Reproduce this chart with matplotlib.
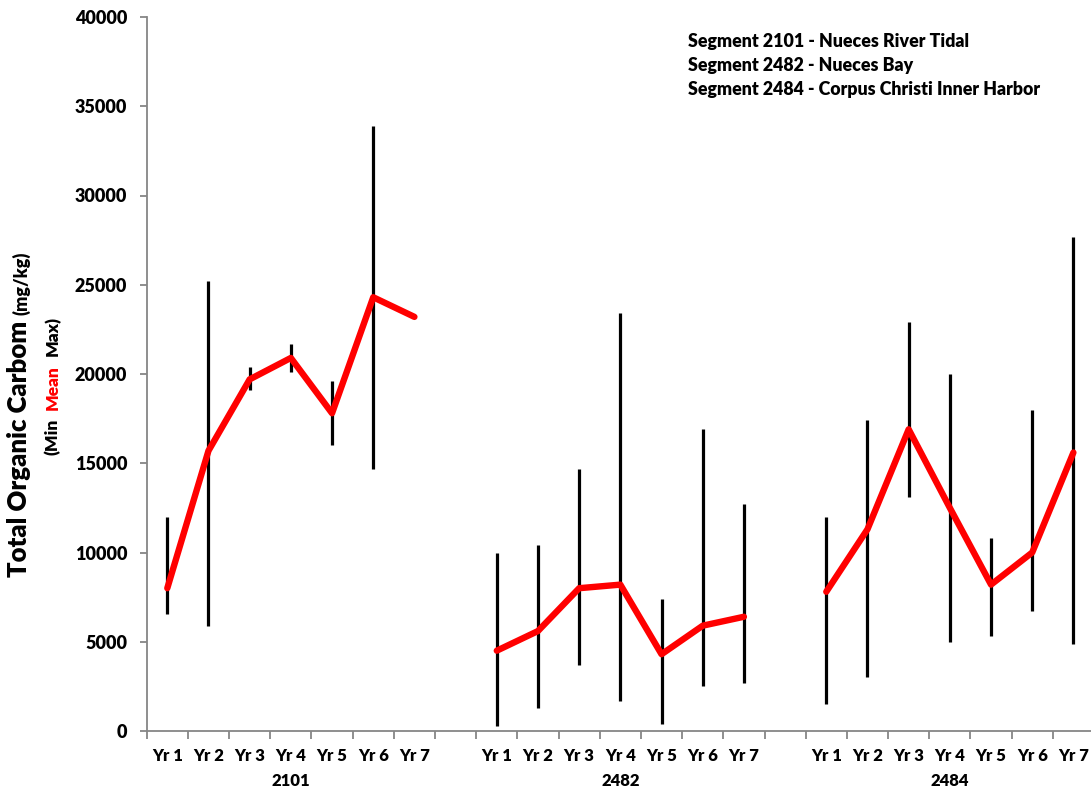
import numpy as np
import matplotlib
matplotlib.use('Agg')
import matplotlib.pyplot as plt

plt.rcParams['font.family'] = ['Lato', 'DejaVu Sans']
plt.rcParams['font.weight'] = 'heavy'

# data (mg/kg)
years = ['Yr 1', 'Yr 2', 'Yr 3', 'Yr 4', 'Yr 5', 'Yr 6', 'Yr 7']
segments = ['2101', '2482', '2484']

mean_2101 = [8000, 15700, 19700, 20900, 17800, 24300, 23200]
min_2101 = [6550, 5900, 19100, 20100, 16000, 14700, np.nan]
max_2101 = [12000, 25200, 20400, 21700, 19600, 33900, np.nan]

mean_2482 = [4500, 5600, 8000, 8200, 4300, 5900, 6400]
min_2482 = [300, 1300, 3700, 1700, 400, 2500, 2700]
max_2482 = [10000, 10400, 14700, 23400, 7400, 16900, 12700]

mean_2484 = [7800, 11300, 16900, 12500, 8200, 10000, 15600]
min_2484 = [1500, 3000, 13100, 5000, 5300, 6700, 4900]
max_2484 = [12000, 17400, 22900, 20000, 10800, 18000, 27700]

legend_lines = ['Segment 2101 - Nueces River Tidal',
                'Segment 2482 - Nueces Bay',
                'Segment 2484 - Corpus Christi Inner Harbor']

means = [mean_2101, mean_2482, mean_2484]
mins = [min_2101, min_2482, min_2484]
maxs = [max_2101, max_2482, max_2484]

W, H = 1091, 790
fig = plt.figure(figsize=(W / 100, H / 100), dpi=100)
ax = fig.add_axes([146.7 / W, 1 - 731 / H, (1094 - 146.7) / W, (731 - 17) / H])

gray = '#868686'
xpos_all = []
for g in range(3):
    x = np.arange(7) + g * 8
    xpos_all.extend(x)
    ax.vlines(x, mins[g], maxs[g], color='black', lw=2.3, zorder=2)
    ax.plot(x, means[g], color='#ff0000', lw=4.6, solid_capstyle='round',
            solid_joinstyle='round', zorder=3)

ax.set_xlim(-0.5, 22.5)
ax.set_ylim(0, 40000)
ax.set_yticks(np.arange(0, 40001, 5000))
ax.set_yticklabels([str(v) for v in range(0, 40001, 5000)], fontsize=13)

ax.set_xticks(np.arange(-0.5, 23, 1))
ax.set_xticklabels([])
ax.set_xticks(xpos_all, minor=True)
ax.set_xticklabels(years * 3, minor=True, fontsize=12)
ax.tick_params(axis='x', which='major', length=6, width=1.3, color=gray, direction='out')
ax.tick_params(axis='x', which='minor', length=0, pad=12)
ax.tick_params(axis='y', length=5, width=1.3, color=gray, pad=9)

for s in ['top', 'right']:
    ax.spines[s].set_visible(False)
for s in ['left', 'bottom']:
    ax.spines[s].set_color(gray)
    ax.spines[s].set_linewidth(1.3)

for g, seg in enumerate(segments):
    fig.text((146.7 + (g * 8 + 3.5) * 41.2) / W, 1 - 781 / H, seg,
             ha='center', va='center', fontsize=12)

for i, line in enumerate(legend_lines):
    fig.text(688 / W, 1 - (42 + 23.5 * i) / H, line, ha='left', va='center',
             fontsize=12.8)

# y axis title built from pieces (mixed size / colour)
fig.canvas.draw()
r = fig.canvas.get_renderer()


def chain(pieces, xb, y0):
    y = y0
    for s, size, color, gap in pieces:
        y += gap
        t = fig.text(xb / W, y / H, s, rotation=90, rotation_mode='anchor',
                     ha='left', va='baseline', fontsize=size, color=color)
        bb = t.get_window_extent(r)
        y = bb.y1


chain([('Total Organic Carbom', 18.5, 'black', 0),
       ('(mg/kg)', 13, 'black', 6)], 27, H - 577)
chain([('(Min', 12.5, 'black', 0),
       ('Mean', 12.5, '#ff0000', 9),
       ('Max)', 12.5, 'black', 9)], 58, H - 455)

fig.savefig('out.png', dpi=100)
